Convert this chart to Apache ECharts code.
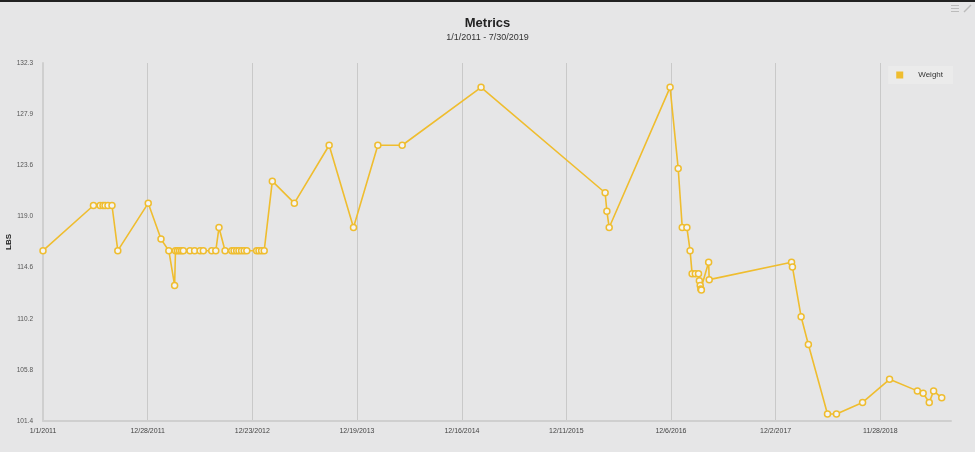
<!DOCTYPE html>
<html><head><meta charset="utf-8">
<script src="https://cdn.jsdelivr.net/npm/echarts@6/dist/echarts.min.js"></script>
<style>html,body{margin:0;padding:0;background:#e6e6e7;}#c{width:975px;height:452px;}</style>
</head><body><div id="c"></div>
<script>
var dates = ['2011-01-01','2011-06-24','2011-07-17','2011-07-27','2011-08-03','2011-08-13','2011-08-27','2011-09-16','2011-12-30',
'2012-02-12','2012-03-10','2012-03-30','2012-04-02','2012-04-09','2012-04-16','2012-04-23','2012-04-29','2012-05-22','2012-06-07',
'2012-06-26','2012-07-07','2012-08-05','2012-08-19','2012-08-30','2012-09-20','2012-10-13','2012-10-21','2012-10-30','2012-11-07',
'2012-11-16','2012-11-25','2012-12-04','2013-01-07','2013-01-15','2013-01-24','2013-02-02','2013-03-02','2013-05-17','2013-09-14',
'2013-12-07','2014-03-01','2014-05-24','2015-02-20','2016-04-23','2016-04-29','2016-05-07','2016-12-03','2016-12-31','2017-01-14',
'2017-01-30','2017-02-10','2017-02-17','2017-02-28','2017-03-11','2017-03-14','2017-03-17','2017-03-19','2017-03-21','2017-04-15',
'2017-04-17','2018-01-26','2018-01-29','2018-02-28','2018-03-25','2018-05-30','2018-06-30','2018-09-28','2018-12-30','2019-04-05',
'2019-04-25','2019-05-16','2019-05-31','2019-06-28'];
var weight = [116.1,120.0,120.0,120.0,120.0,120.0,120.0,116.1,120.2,
117.1,116.1,113.1,116.1,116.1,116.1,116.1,116.1,116.1,116.1,
116.1,116.1,116.1,116.1,118.1,116.1,116.1,116.1,116.1,116.1,
116.1,116.1,116.1,116.1,116.1,116.1,116.1,122.1,120.2,125.2,
118.1,125.2,125.2,130.2,121.1,119.5,118.1,130.2,123.2,118.1,
118.1,116.1,114.1,114.1,114.1,113.5,113.1,112.8,112.7,115.1,
113.6,115.1,114.7,110.4,108.0,102.0,102.0,103.0,105.0,104.0,
103.8,103.0,104.0,103.4];
var xTickDates = ['2011-01-01','2011-12-28','2012-12-23','2013-12-19','2014-12-16','2015-12-11','2016-12-06','2017-12-02','2018-11-28'];
var xTickLabels = ['1/1/2011','12/28/2011','12/23/2012','12/19/2013','12/16/2014','12/11/2015','12/6/2016','12/2/2017','11/28/2018'];
var yTickLabels = ['101.4','105.8','110.2','114.6','119.0','123.6','127.9','132.3'];
var yMin = 101.4, yMax = 132.3;
var xStart = '2011-01-01', xEnd = '2019-07-30';

function ts(s){var p=s.split('-');return Date.UTC(+p[0],+p[1]-1,+p[2]);}
function nearest(arr,v){var b=0;for(var k=0;k<arr.length;k++){if(Math.abs(arr[k]-v)<Math.abs(arr[b]-v))b=k;}return b;}
var xTicks = xTickDates.map(ts);
var yTicks = yTickLabels.map(function(_,i){return yMin + i*(yMax-yMin)/(yTickLabels.length-1);});
var seriesData = dates.map(function(d,i){return [ts(d), weight[i]];});

var chart = echarts.init(document.getElementById('c'), null, {renderer:'canvas'});
var gold = '#efbd2f';
chart.setOption({
  backgroundColor:'#e6e6e7',
  animation:false,
  title:{text:'Metrics',subtext:'1/1/2011 - 7/30/2019',left:'center',top:12,itemGap:3,
    textStyle:{fontFamily:'Liberation Sans',fontSize:13,fontWeight:'bold',color:'#222'},
    subtextStyle:{fontFamily:'Liberation Sans',fontSize:9,color:'#333'}},
  legend:{data:['Weight'],right:22,top:66,icon:'rect',itemWidth:7,itemHeight:7,itemGap:10,
    backgroundColor:'#ebebeb',padding:[5,10,5,8],
    itemStyle:{color:gold,borderWidth:0},
    textStyle:{fontFamily:'Liberation Sans',fontSize:8,color:'#333',padding:[0,0,0,10]}},
  grid:{left:43,right:24,top:63,bottom:31,containLabel:false,outerBoundsMode:'none'},
  xAxis:{type:'value',min:ts(xStart),max:ts(xEnd),
    axisLine:{show:true,lineStyle:{color:'#cfcfcf',width:2}},
    axisTick:{show:false,customValues:xTicks},
    splitLine:{show:true,lineStyle:{color:'#c9c9c9',width:1}},
    axisLabel:{customValues:xTicks,fontFamily:'Liberation Sans',fontSize:7,color:'#444',margin:7,hideOverlap:false,
      formatter:function(v){return xTickLabels[nearest(xTicks,v)];}}},
  yAxis:{type:'value',min:yMin,max:yMax,name:'LBS',nameLocation:'middle',nameGap:30,nameRotate:90,nameMoveOverlap:false,
    nameTextStyle:{fontFamily:'Liberation Sans',fontSize:8,fontWeight:'bold',color:'#222'},
    axisLine:{show:true,lineStyle:{color:'#cfcfcf',width:2}},
    axisTick:{show:false,customValues:yTicks},
    splitLine:{show:false},
    axisLabel:{customValues:yTicks,fontFamily:'Liberation Sans',fontSize:6.5,color:'#555',margin:10,
      formatter:function(v){return yTickLabels[nearest(yTicks,v)];}}},
  series:[{name:'Weight',type:'line',data:seriesData,symbol:'circle',symbolSize:6,showAllSymbol:true,
    lineStyle:{color:gold,width:1.6},itemStyle:{color:'#f4f4f4',borderColor:gold,borderWidth:1.5},
    emphasis:{disabled:true}}],
  graphic:[
    {type:'rect',shape:{x:0,y:0,width:975,height:2},style:{fill:'#222'}},
    {type:'rect',shape:{x:951,y:5,width:8,height:1},style:{fill:'#bbb'}},
    {type:'rect',shape:{x:951,y:8,width:8,height:1},style:{fill:'#bbb'}},
    {type:'rect',shape:{x:951,y:11,width:8,height:1},style:{fill:'#bbb'}},
    {type:'line',shape:{x1:964,y1:12,x2:971,y2:5},style:{stroke:'#bbb',lineWidth:1.5}}
  ]
});
</script></body></html>
